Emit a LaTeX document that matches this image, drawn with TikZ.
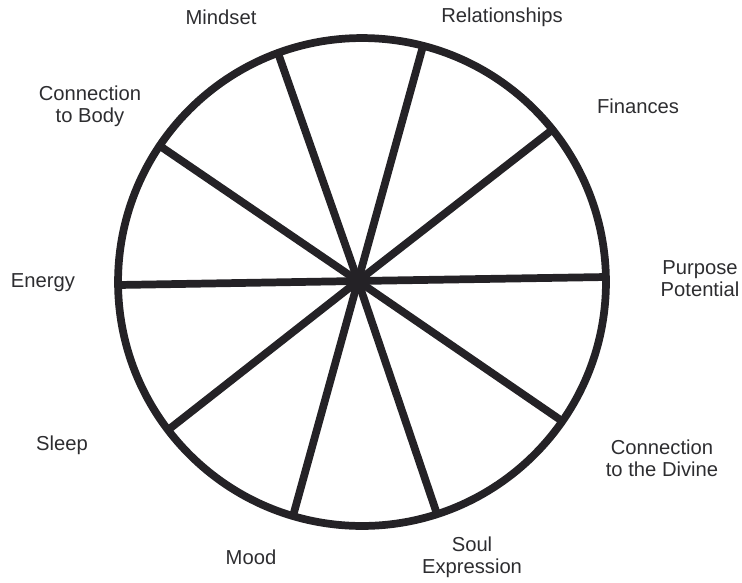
\documentclass[tikz,border=0pt]{standalone}
\usepackage{fontspec}
\setmainfont{Liberation Sans}
\usetikzlibrary{positioning}
\definecolor{cInk}{RGB}{36,34,38}
\definecolor{cText}{RGB}{45,45,48}
\tikzset{
	rim/.style  ={draw=cInk, line width=4.4pt},
	spoke/.style={draw=cInk, line width=4.4pt},
	lbl/.style  ={text=cText, align=center, inner sep=0pt, font=\fontsize{11.5}{12.6}\selectfont},
}

\begin{document}
\begin{tikzpicture}[x=0.02cm, y=-0.02cm]
			\useasboundingbox (0,0) rectangle (742,582);
			% wheel
			\coordinate (c) at (362,282);
			\coordinate (hub) at (358,281);
			\draw[rim] (c) circle[radius=4.88cm];
			% spoke ends on the rim
			\foreach \n/\p in {mind/{278,53}, rel/{423,46}, fin/{552,130}, purp/{606,277},
				div/{562,421}, soul/{437,514}, mood/{293,516}, sleep/{168,430},
				energy/{118,285}, body/{160,146}}
				\coordinate (\n) at (\p);
			\foreach \n in {mind, rel, fin, purp, div, soul, mood, sleep, energy, body}
				\draw[spoke] (hub) -- (\n);
			% labels
			\node[lbl] (lmind)   at (221,17)  {Mindset};
			\node[lbl] (lrel)    at (502,17)  {Relationships};
			\node[lbl] (lfin)    at (638,106) {Finances};
			\node[lbl] (lpurp)   at (700,279) {Purpose\\Potential};
			\node[lbl] (ldiv)    at (662,458) {Connection\\to the Divine};
			\node[lbl] (lsoul)   at (472,557) {Soul\\Expression};
			\node[lbl] (lmood)   at (251,557) {Mood};
			\node[lbl] (lsleep)  at (62,445)  {Sleep};
			\node[lbl] (lenergy) at (43,283)  {Energy};
			\node[lbl] (lbody)   at (90,106)  {Connection\\to Body};
		\end{tikzpicture}
\end{document}
